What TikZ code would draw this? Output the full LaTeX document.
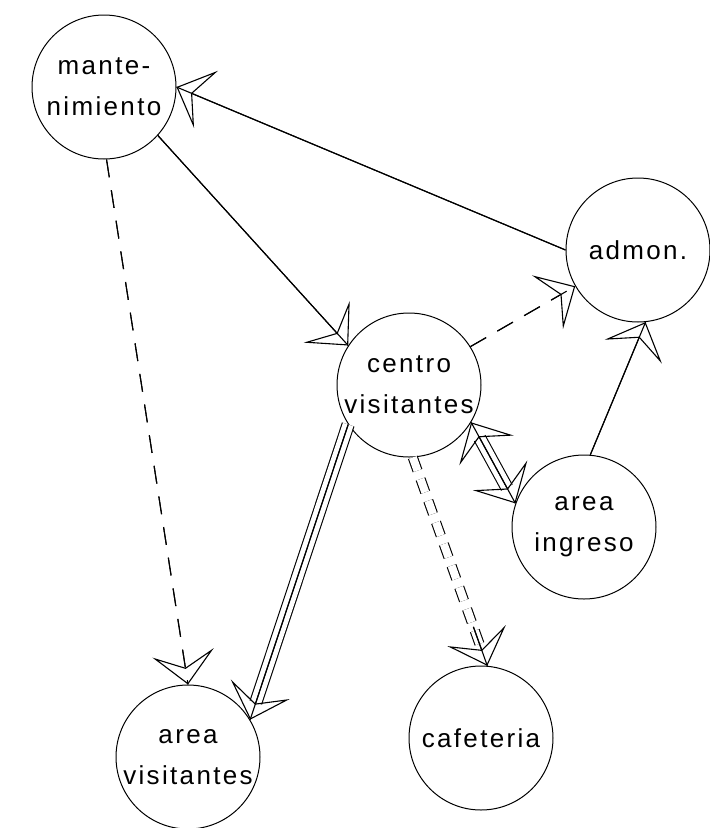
\documentclass[tikz,border=0pt]{standalone}
\usepackage{fontspec}
\setmainfont{Liberation Sans}
\usetikzlibrary{arrows.meta}

\newcommand{\lbl}{\fontsize{26}{41}\selectfont\addfontfeature{LetterSpace=9}}

\tikzset{
  >={Stealth[open, length=32pt, width=62pt, inset=15pt]},
  place/.style={circle, draw, line width=1pt, minimum size=144pt, inner sep=0pt, align=center, font=\lbl},
  flow/.style={line width=1.1pt, ->, postaction={draw, -}},
  dflow/.style={flow, dash pattern=on 18pt off 13pt},
  triple/.style={line width=1.1pt, double, double distance=11pt},
  ddash/.style={line width=1.1pt, double, double distance=8pt, dash pattern=on 14pt off 9pt}
}

\begin{document}
\begin{tikzpicture}[x=1pt, y=-1pt]

  \useasboundingbox[fill=white] (0,0) rectangle (710,828);

  \node[place] (mante)   at (104, 87)  {mante-\\nimiento};
  \node[place] (admon)   at (638, 250) {admon.};
  \node[place] (centro)  at (409, 385) {centro\\visitantes};
  \node[place] (ingreso) at (584, 527) {area\\ingreso};
  \node[place] (areavis) at (188, 757) {area\\visitantes};
  \node[place] (cafe)    at (481, 738) {cafeteria};

  \draw[flow]  (admon.180)   -- (mante.0);     % admon->mante
  \draw[flow]  (mante.-42)   -- (centro.147);  % mante->centro
  \draw[dflow] (mante.-88)   -- (areavis.90);  % mante->area vis.
  \draw[dflow] (centro.32)   -- (admon.210);   % centro->admon
  \draw[flow]  (ingreso.85)  -- (admon.-84);   % ingreso->admon

  % centro<->ingreso, three lines
  \draw[triple, shorten <=18pt, shorten >=18pt] (centro.-31) -- (ingreso.161);
  \draw[flow, <->] (centro.-31) -- (ingreso.161);

  % centro->area vis., three lines
  \draw[triple, shorten >=18pt] (centro.213) -- (areavis.31);
  \draw[flow] (centro.213) -- (areavis.31);

  % centro->cafeteria, two dashed lines
  \draw[ddash, shorten >=18pt] (centro.-87) -- (cafe.85);
  \draw[flow, shorten <=180pt] (centro.-87) -- (cafe.85);

\end{tikzpicture}
\end{document}
